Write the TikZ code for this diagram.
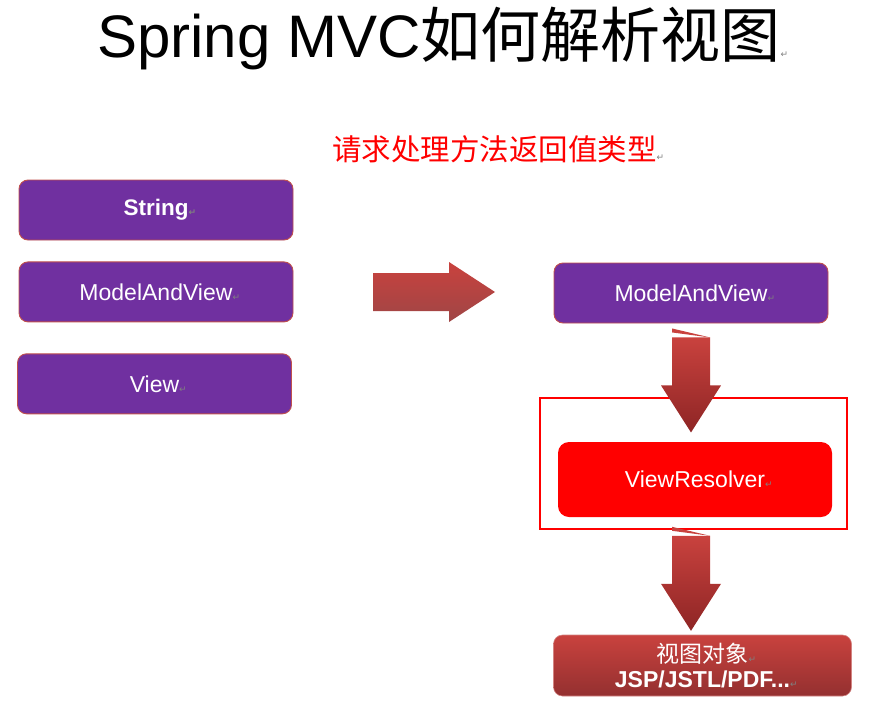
\documentclass[tikz,border=0pt]{standalone}
\usepackage{fontspec}
\setmainfont{Liberation Sans}
\newfontfamily\cjk{Noto Sans CJK SC}
\newfontfamily\markfont{DejaVu Sans}
\usetikzlibrary{positioning}
\definecolor{boxpurple}{HTML}{7030A0}
\definecolor{boxedge}{HTML}{C0504D}
\definecolor{arrowtop}{HTML}{C9423E}
\definecolor{arrowbot}{HTML}{8E2525}
\newcommand{\retmark}{\rlap{\markfont\fontsize{9}{9}\selectfont\color{gray} ↵}}
\tikzset{
  typebox/.style={
    rectangle, rounded corners=9pt,
    draw=boxedge, line width=0.9pt, fill=boxpurple,
    minimum width=274pt, minimum height=60pt, inner sep=0pt,
    text=white, font=\fontsize{23}{27}\selectfont,
  },
  resolverbox/.style={
    rectangle, rounded corners=11pt, fill=red,
    minimum width=274pt, minimum height=75pt, inner sep=0pt,
    text=white, font=\fontsize{23}{27}\selectfont,
  },
  framebox/.style={draw=red, line width=1.6pt, minimum width=307pt, minimum height=131pt},
  objbox/.style={
    rectangle, rounded corners=9pt, draw=boxedge!70, line width=0.6pt,
    top color=arrowtop, bottom color=arrowbot!95,
    minimum width=298pt, minimum height=61pt, inner sep=0pt,
    align=center, text=white, font=\fontsize{23}{27}\selectfont,
  },
  blockarrow/.style={top color=arrowtop, bottom color=arrowbot},
  pics/downblock/.style={code={
    \fill[arrowtop] (-19,-9) -- (19,0) -- (-19,-5) -- cycle;
    \shade[blockarrow] (-19,0) -- (19,0) -- (19,48) -- (30,48) -- (0,95)
      -- (-30,48) -- (-19,48) -- cycle;
  }},
}

\begin{document}
\begin{tikzpicture}[x=1pt, y=-1pt]
  \useasboundingbox (0,0) rectangle (893,709);

  % Title and caption
  \node[anchor=base west, inner sep=0pt, font=\fontsize{60}{60}\selectfont] (title) at (97,57)
    {Spring MVC{\cjk 如何解析视图}\retmark};
  \node[anchor=base west, inner sep=0pt, text=red, font=\cjk\fontsize{29.5}{30}\selectfont] (caption) at (332,160)
    {请求处理方法返回值类型\retmark};

  % Left column: return types
  \node[typebox, font=\fontsize{22.5}{27}\selectfont\bfseries] (str) at (156,210) {String\retmark};
  \node[typebox, below=21pt of str] (mavl) {ModelAndView\retmark};
  \node[typebox, below=31pt of mavl, xshift=-1.5pt] (viewl) {View\retmark};

  % Right column
  \node[typebox] (mavr) at (691,293) {ModelAndView\retmark};
  \node[resolverbox] (resolver) at (695,479.5) {ViewResolver\retmark};
  \node[framebox] (frame) at (693.5,463.5) {};
  \node[objbox] (viewobj) at (702.5,665.5)
    {{\cjk 视图对象}\retmark\\[-2pt] \textbf{JSP/JSTL/PDF...}\retmark};

  % Block arrows
  \coordinate (rtail) at (373,292);
  \shade[blockarrow, top color=arrowtop, bottom color=arrowbot!85, shift={(rtail)}]
    (0,-19) -- (76,-19) -- (76,-30) -- (122,0) -- (76,30) -- (76,19) -- (0,19) -- cycle;
  \pic at ([yshift=-14pt]mavr.south) {downblock};
  \pic at ([yshift=-6pt]mavr.south |- frame.south) {downblock};

\end{tikzpicture}
\end{document}
